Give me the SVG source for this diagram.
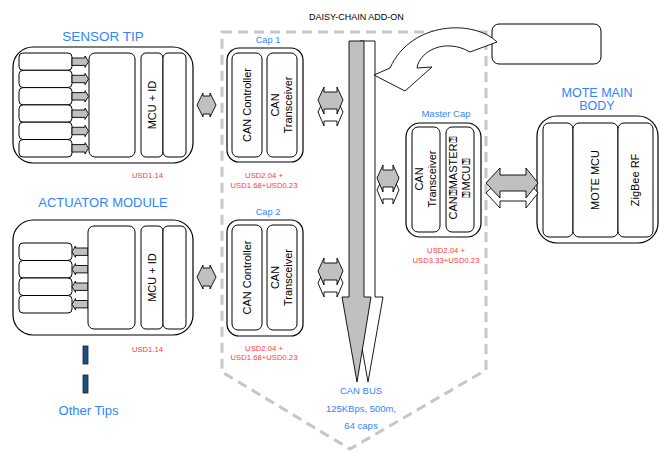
<svg xmlns="http://www.w3.org/2000/svg" width="659" height="451" viewBox="0 0 659 451">
<style>
text{font-family:"Liberation Sans",Arial,sans-serif}
.box{fill:#fff;stroke:#000;stroke-width:1.2}
.ibox{fill:#fff;stroke:#000;stroke-width:1}
.blue{fill:#2f84ff}
.red{fill:#ff3b3b;font-size:7.7px;text-anchor:middle}
.lbl{font-size:11px;text-anchor:middle;fill:#000}
.ga{fill:#c0c0c0;stroke:#000;stroke-width:0.9}
.wa{fill:#fff;stroke:#000;stroke-width:0.9}
.dash{fill:none;stroke:#c6c6c6;stroke-width:3;stroke-dasharray:10 6}
</style>
<rect width="659" height="451" fill="#fff"/>

<g id="boundary">
<path class="dash" d="M222,32 L486,32 L486,370 L350,449 L222,372 Z"/>
<text x="309" y="19.5" font-size="9" fill="#000">DAISY-CHAIN ADD-ON</text>
</g>

<g id="sensor-tip">
<text x="103" y="41" font-size="13.5" class="blue" text-anchor="middle">SENSOR TIP</text>
<rect class="box" x="13" y="47" width="180" height="116" rx="20"/>
<rect class="ibox" x="19" y="53" width="53" height="17.3" rx="4"/>
<rect class="ibox" x="19" y="70.3" width="53" height="17.3" rx="4"/>
<rect class="ibox" x="19" y="87.6" width="53" height="17.3" rx="4"/>
<rect class="ibox" x="19" y="104.9" width="53" height="17.3" rx="4"/>
<rect class="ibox" x="19" y="122.2" width="53" height="17.3" rx="4"/>
<rect class="ibox" x="19" y="139.5" width="53" height="17.5" rx="4"/>
<g class="ga">
<path d="M72,58 L85,58 L85,56 L88.5,61.7 L85,67.4 L85,65.4 L72,65.4 Z"/>
<path d="M72,75.3 L85,75.3 L85,73.3 L88.5,79 L85,84.7 L85,82.7 L72,82.7 Z"/>
<path d="M72,92.6 L85,92.6 L85,90.6 L88.5,96.3 L85,102 L85,100 L72,100 Z"/>
<path d="M72,110 L85,110 L85,108 L88.5,113.7 L85,119.4 L85,117.4 L72,117.4 Z"/>
<path d="M72,127.3 L85,127.3 L85,125.3 L88.5,131 L85,136.7 L85,134.7 L72,134.7 Z"/>
<path d="M72,144.6 L85,144.6 L85,142.6 L88.5,148.3 L85,154 L85,152 L72,152 Z"/>
</g>
<rect class="ibox" x="89" y="53" width="46" height="104" rx="6"/>
<rect class="ibox" x="141" y="53" width="22" height="104" rx="5"/>
<rect class="ibox" x="163" y="53" width="23" height="104" rx="5"/>
<text class="lbl" transform="translate(156,105) rotate(-90)">MCU + ID</text>
<text class="red" x="147.5" y="178">USD1.14</text>
</g>

<g id="actuator-module">
<text x="103" y="207" font-size="13" class="blue" text-anchor="middle">ACTUATOR MODULE</text>
<rect class="box" x="13" y="220" width="180" height="115" rx="20"/>
<rect class="ibox" x="19" y="243" width="53" height="17.5" rx="4"/>
<rect class="ibox" x="19" y="260.5" width="53" height="17.5" rx="4"/>
<rect class="ibox" x="19" y="278" width="53" height="17.5" rx="4"/>
<rect class="ibox" x="19" y="295.5" width="53" height="17.5" rx="4"/>
<g class="ga">
<path d="M88,248 L75.5,248 L75.5,246 L72,251.7 L75.5,257.4 L75.5,255.4 L88,255.4 Z"/>
<path d="M88,265.5 L75.5,265.5 L75.5,263.5 L72,269.2 L75.5,274.9 L75.5,272.9 L88,272.9 Z"/>
<path d="M88,283 L75.5,283 L75.5,281 L72,286.7 L75.5,292.4 L75.5,290.4 L88,290.4 Z"/>
<path d="M88,300.5 L75.5,300.5 L75.5,298.5 L72,304.2 L75.5,309.9 L75.5,307.9 L88,307.9 Z"/>
</g>
<rect class="ibox" x="88" y="226" width="47" height="103" rx="6"/>
<rect class="ibox" x="141" y="226" width="22" height="103" rx="5"/>
<rect class="ibox" x="163" y="226" width="23" height="103" rx="5"/>
<text class="lbl" transform="translate(156,277.5) rotate(-90)">MCU + ID</text>
<text class="red" x="147.5" y="352">USD1.14</text>
</g>

<g id="other-tips">
<rect x="83" y="346" width="5" height="18" fill="#1f4e7f" stroke="#10263f" stroke-width="0.8"/>
<rect x="83" y="375" width="5" height="18" fill="#1f4e7f" stroke="#10263f" stroke-width="0.8"/>
<text x="88.5" y="415" font-size="13" class="blue" text-anchor="middle">Other Tips</text>
</g>

<g id="cap1">
<text x="268" y="43" font-size="9.2" class="blue" text-anchor="middle">Cap 1</text>
<rect class="box" x="227" y="48" width="76" height="114" rx="12"/>
<rect class="ibox" x="232" y="53" width="30" height="104" rx="6"/>
<rect class="ibox" x="267" y="53" width="30" height="104" rx="6"/>
<text class="lbl" transform="translate(247,105) rotate(-90)" y="3.9">CAN Controller</text>
<text class="lbl" transform="translate(282,105) rotate(-90)"><tspan x="0" y="-2.6">CAN</tspan><tspan x="0" y="10.4">Transceiver</tspan></text>
<text class="red" x="264" y="178">USD2.04 +</text>
<text class="red" x="264" y="188">USD1.68+USD0.23</text>
</g>

<g id="cap2">
<text x="268" y="215" font-size="9.2" class="blue" text-anchor="middle">Cap 2</text>
<rect class="box" x="227" y="220" width="76" height="116" rx="12"/>
<rect class="ibox" x="232" y="225" width="30" height="105" rx="6"/>
<rect class="ibox" x="267" y="225" width="30" height="105" rx="6"/>
<text class="lbl" transform="translate(247,277.5) rotate(-90)" y="3.9">CAN Controller</text>
<text class="lbl" transform="translate(282,277.5) rotate(-90)"><tspan x="0" y="-2.6">CAN</tspan><tspan x="0" y="10.4">Transceiver</tspan></text>
<text class="red" x="264" y="351">USD2.04 +</text>
<text class="red" x="264" y="360">USD1.68+USD0.23</text>
</g>

<g id="master-cap">
<text x="446" y="117" font-size="9.5" class="blue" text-anchor="middle">Master Cap</text>
<rect class="box" x="406" y="123" width="75" height="114" rx="14"/>
<rect class="ibox" x="412" y="127" width="28" height="105" rx="6"/>
<rect class="ibox" x="446" y="127" width="28" height="105" rx="6"/>
<text class="lbl" transform="translate(426,179) rotate(-90)"><tspan x="0" y="-2.6">CAN</tspan><tspan x="0" y="10.4">Transceiver</tspan></text>
<text class="lbl" font-size="10" transform="translate(460,178) rotate(-90)"><tspan x="0" y="-2.9">CAN⍰MASTER⍰</tspan><tspan x="0" y="10.1">⍰MCU⍰</tspan></text>
<text class="red" x="446" y="253">USD2.04 +</text>
<text class="red" x="446" y="263">USD3.33+USD0.23</text>
</g>

<g id="mote-main-body">
<text font-size="12.5" class="blue" text-anchor="middle"><tspan x="597" y="97">MOTE MAIN</tspan><tspan x="597" y="110">BODY</tspan></text>
<rect class="box" x="537" y="116" width="121" height="127" rx="20"/>
<rect class="ibox" x="543" y="123" width="30" height="114" rx="6"/>
<rect class="ibox" x="573" y="123" width="45" height="114" rx="6"/>
<rect class="ibox" x="618" y="123" width="35" height="114" rx="6"/>
<text class="lbl" transform="translate(595.5,180) rotate(-90)" y="3.9">MOTE MCU</text>
<text class="lbl" transform="translate(635.5,180) rotate(-90)" y="3.9">ZigBee RF</text>
</g>

<g id="gateway-box">
<rect class="ibox" x="492" y="24" width="109" height="40" rx="7"/>
</g>

<g id="connectors">
<!-- CAN bus 3D arrow -->
<path class="wa" d="M360,41 L375,41 L375,297 L383,297 L368,382 L353,297 L360,297 Z"/>
<path class="ga" d="M349,41 L364,41 L364,297 L371,297 L357,382 L342,297 L349,297 Z"/>
<!-- curved arrow -->
<path class="wa" d="M497,42 C475,20 412,20 390,68 L374,75 L405,91 L432,67 L417,68 C420,50 446,38 470,52 Z"/>
<!-- sensor <-> cap1 -->
<path class="ga" d="M197,105 L203,93 L203,96 L210,96 L210,93 L216,105 L210,117 L210,114 L203,114 L203,117 Z"/>
<!-- actuator <-> cap2 -->
<path class="ga" d="M197,277 L203,265 L203,268 L210,268 L210,265 L216,277 L210,289 L210,286 L203,286 L203,289 Z"/>
<!-- cap1 <-> bus -->
<path class="wa" d="M318,112 L324,99 L324,104 L337,104 L337,99 L343,112 L337,126 L337,121 L324,121 L324,126 Z"/>
<path class="ga" d="M318,100 L324,87 L324,92 L337,92 L337,87 L343,100 L337,114 L337,109 L324,109 L324,114 Z"/>
<!-- cap2 <-> bus -->
<path class="wa" d="M318,283 L324,270 L324,275 L337,275 L337,270 L343,283 L337,297 L337,292 L324,292 L324,297 Z"/>
<path class="ga" d="M318,271 L324,258 L324,263 L337,263 L337,258 L343,271 L337,285 L337,280 L324,280 L324,285 Z"/>
<!-- bus <-> master -->
<path class="wa" d="M377,190 L383,177 L383,182 L393,182 L393,177 L399,190 L393,204 L393,199 L383,199 L383,204 Z"/>
<path class="ga" d="M377,178 L383,165 L383,170 L393,170 L393,165 L399,178 L393,192 L393,187 L383,187 L383,192 Z"/>
<!-- master <-> mote -->
<path class="wa" d="M486,193 L500,178 L500,185 L526,185 L526,178 L538,193 L526,208 L526,201 L500,201 L500,208 Z"/>
<path class="ga" d="M486,183 L500,168 L500,175 L526,175 L526,168 L538,183 L526,198 L526,191 L500,191 L500,198 Z"/>
</g>

<g id="can-bus-label">
<text x="361" y="394" font-size="9.5" class="blue" text-anchor="middle">CAN BUS</text>
<text x="361" y="412" font-size="9.5" class="blue" text-anchor="middle">125KBps, 500m,</text>
<text x="361" y="429" font-size="9.5" class="blue" text-anchor="middle">64 caps</text>
</g>
</svg>
